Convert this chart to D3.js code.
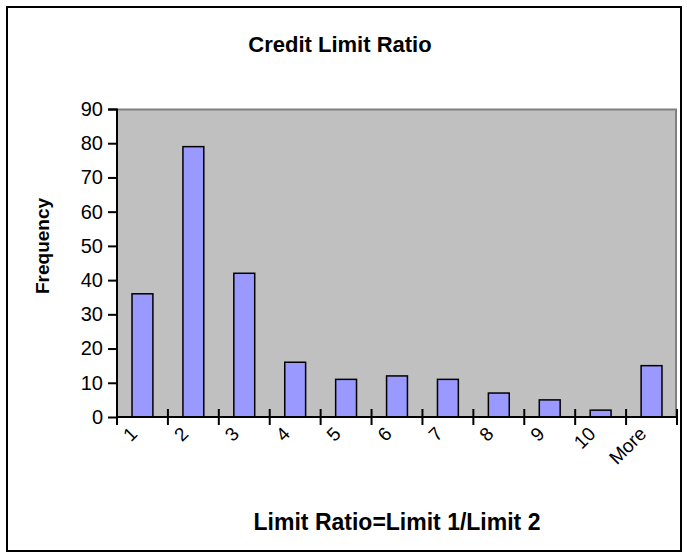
<!DOCTYPE html>
<html>
<head>
<meta charset="utf-8">
<script src="https://cdn.jsdelivr.net/npm/d3@7"></script>
<style>
  body { margin: 0; background: #fff; }
  text { font-family: "Liberation Sans", Arial, sans-serif; }
</style>
</head>
<body>
<div id="chart"></div>
<script>
// histogram bins and counts
const bins = ["1", "2", "3", "4", "5", "6", "7", "8", "9", "10", "More"];
const counts = [36, 79, 42, 16, 11, 12, 11, 7, 5, 2, 15];
const yTicks = [0, 10, 20, 30, 40, 50, 60, 70, 80, 90];

const W = 687, H = 559;
const margin = {top: 109, right: 10, bottom: 142, left: 117},
    width = 677 - margin.left,
    height = 417 - margin.top;

const svg = d3.select("#chart")
    .append("svg")
    .attr("width", W)
    .attr("height", H);

// outer frame
svg.append("rect")
    .attr("x", 7).attr("y", 7)
    .attr("width", 674).attr("height", 544)
    .attr("fill", "none")
    .attr("stroke", "#000")
    .attr("stroke-width", 2);

const g = svg.append("g")
    .attr("transform", `translate(${margin.left},${margin.top})`);

const xScale = d3.scaleBand()
    .domain(bins)
    .range([0, width])
    .paddingInner(0.59)
    .paddingOuter(0.295);

const yScale = d3.scaleLinear()
    .domain([0, 90])
    .range([height, 0]);

//plot area
g.append("rect")
    .attr("width", width)
    .attr("height", height)
    .attr("fill", "#c0c0c0");
g.append("path")
    .attr("d", `M0,0.5H${width - 1}V${height}`)
    .attr("fill", "none")
    .attr("stroke", "#808080")
    .attr("stroke-width", 2);

//bars
g.selectAll(".bar")
    .data(counts)
    .enter()
    .append("rect")
    .attr("class", "bar")
    .attr("x", (d, i) => xScale(bins[i]))
    .attr("y", d => yScale(d))
    .attr("width", xScale.bandwidth())
    .attr("height", d => height - yScale(d))
    .attr("fill", "#9999ff")
    .attr("stroke", "#000")
    .attr("stroke-width", 1.5);

//y axis
const yAxis = g.append("g")
    .call(d3.axisLeft(yScale).tickValues(yTicks).tickSize(9).tickPadding(5));
yAxis.select(".domain").attr("stroke-width", 2).attr("d", `M-9,0.5H0V${height}`);
yAxis.selectAll(".tick line").attr("stroke-width", 2);
yAxis.selectAll("text")
    .attr("font-size", "20px")
    .attr("font-family", "Liberation Sans, Arial, sans-serif")
    .attr("fill", "#000");

//x axis: ticks at bin edges, crossing the axis
const step = xScale.step();
const edges = d3.range(bins.length + 1);
const xAxis = g.append("g")
    .attr("transform", `translate(0,${height})`);
xAxis.append("line")
    .attr("x1", 0).attr("x2", width)
    .attr("stroke", "#000").attr("stroke-width", 2);
xAxis.selectAll(".xtick")
    .data(edges)
    .enter()
    .append("line")
    .attr("x1", d => d * step).attr("x2", d => d * step)
    .attr("y1", -8).attr("y2", 8)
    .attr("stroke", "#000").attr("stroke-width", 2);
xAxis.selectAll(".xlabel")
    .data(bins)
    .enter()
    .append("text")
    .attr("transform", d => `translate(${xScale(d) + xScale.bandwidth() / 2 - 4},${18}) rotate(-45)`)
    .attr("text-anchor", "end")
    .attr("font-size", "19px")
    .text(d => d);

//titles
svg.append("text")
    .attr("x", 340)
    .attr("y", 52)
    .attr("text-anchor", "middle")
    .attr("font-size", "22px")
    .attr("font-weight", "bold")
    .text("Credit Limit Ratio");

svg.append("text")
    .attr("x", margin.left + width / 2)
    .attr("y", 530)
    .attr("text-anchor", "middle")
    .attr("font-size", "23px")
    .attr("font-weight", "bold")
    .text("Limit Ratio=Limit 1/Limit 2");

svg.append("text")
    .attr("transform", `translate(49,246) rotate(-90)`)
    .attr("text-anchor", "middle")
    .attr("font-size", "19px")
    .attr("font-weight", "bold")
    .text("Frequency");
</script>
</body>
</html>
